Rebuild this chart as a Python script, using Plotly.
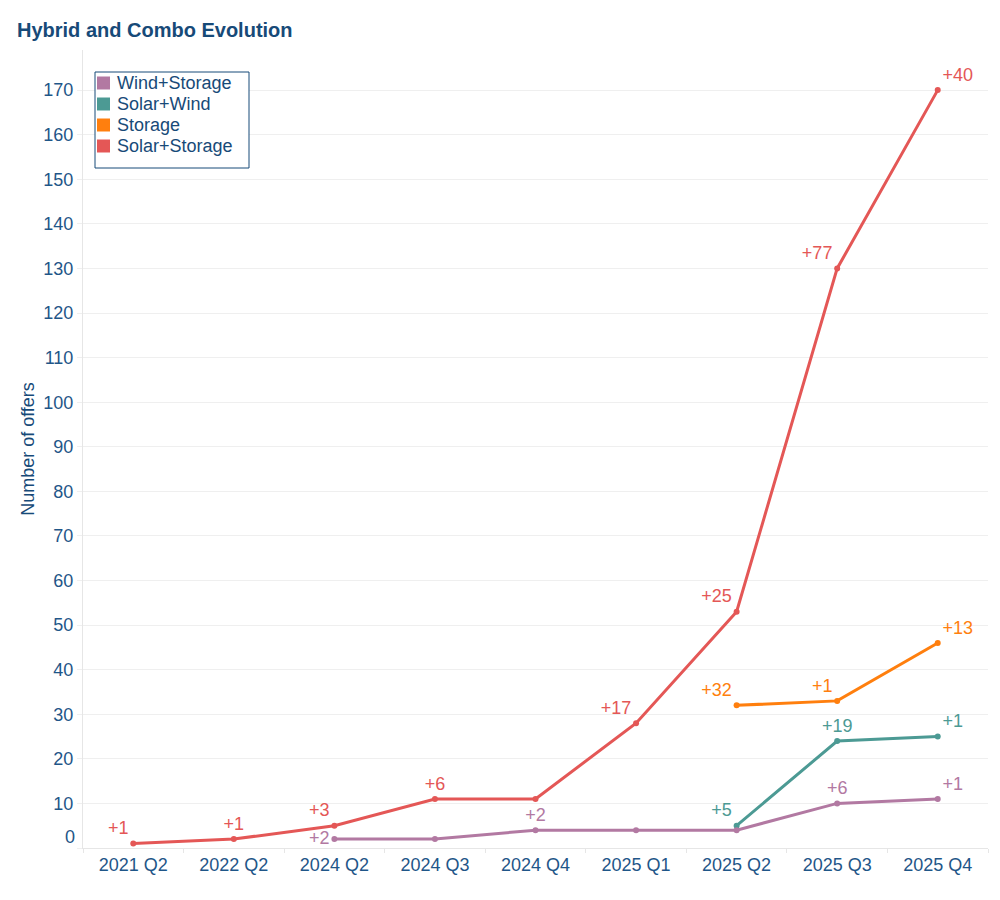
import plotly.graph_objects as go

quarters = ["2021 Q2", "2022 Q2", "2024 Q2", "2024 Q3", "2024 Q4",
            "2025 Q1", "2025 Q2", "2025 Q3", "2025 Q4"]

solar_storage_x = quarters
solar_storage_y = [1, 2, 5, 11, 11, 28, 53, 130, 170]
solar_storage_lbl = ["+1", "+1", "+3", "+6", "", "+17", "+25", "+77", "+40"]
solar_storage_pos = ["top left", "top center", "top left", "top center", "top center",
                     "top left", "top left", "top left", "top right"]

wind_storage_x = ["2024 Q2", "2024 Q3", "2024 Q4", "2025 Q1", "2025 Q2", "2025 Q3", "2025 Q4"]
wind_storage_y = [2, 2, 4, 4, 4, 10, 11]
wind_storage_lbl = ["+2", "", "+2", "", "", "+6", "+1"]
wind_storage_pos = ["middle left", "top center", "top center", "top center", "top center",
                    "top center", "top right"]

solar_wind_x = ["2025 Q2", "2025 Q3", "2025 Q4"]
solar_wind_y = [5, 24, 25]
solar_wind_lbl = ["+5", "+19", "+1"]
solar_wind_pos = ["top left", "top center", "top right"]

storage_x = ["2025 Q2", "2025 Q3", "2025 Q4"]
storage_y = [32, 33, 46]
storage_lbl = ["+32", "+1", "+13"]
storage_pos = ["top left", "top left", "top right"]

legend_order = ["Wind+Storage", "Solar+Wind", "Storage", "Solar+Storage"]

colors = {
    "Wind+Storage": "#b279a2",
    "Solar+Wind": "#4c9a94",
    "Storage": "#ff7f0e",
    "Solar+Storage": "#e45756",
}
navy = "#174a78"
tick_col = "#1f5688"
font_family = "Liberation Sans, Arial, sans-serif"

W, H = 992, 892
ML, MR, MT, MB = 75, 12, 42, 52

series = [
    ("Solar+Storage", solar_storage_x, solar_storage_y, solar_storage_lbl, solar_storage_pos),
    ("Storage", storage_x, storage_y, storage_lbl, storage_pos),
    ("Solar+Wind", solar_wind_x, solar_wind_y, solar_wind_lbl, solar_wind_pos),
    ("Wind+Storage", wind_storage_x, wind_storage_y, wind_storage_lbl, wind_storage_pos),
]

fig = go.Figure()
for name, xs, ys, lbl, pos in series:
    fig.add_trace(go.Scatter(
        x=xs, y=ys, mode="lines+markers+text", name=name,
        line=dict(color=colors[name], width=3),
        marker=dict(color=colors[name], size=6),
        text=lbl, textposition=pos,
        textfont=dict(color=colors[name], size=18, family=font_family),
        showlegend=False, cliponaxis=False,
    ))

fig.update_layout(
    width=W, height=H,
    margin=dict(l=ML, r=MR, t=MT, b=MB),
    paper_bgcolor="white", plot_bgcolor="white",
    font=dict(family=font_family, color=tick_col, size=18),
    title=dict(text="<b>Hybrid and Combo Evolution</b>", x=9 / W, xanchor="left",
               xref="container", y=1 - 22 / H, yref="container", yanchor="middle",
               font=dict(size=20, color=navy, family=font_family)),
    showlegend=False,
)

fig.update_xaxes(
    type="category", categoryorder="array", categoryarray=quarters,
    range=[-0.5, len(quarters) - 0.5],
    showgrid=False, showline=True, linecolor="#e6e6e6", linewidth=1,
    ticks="outside", ticklen=4, tickcolor="#e6e6e6", tickson="boundaries",
    tickfont=dict(size=18, color=tick_col), zeroline=False,
)

yt = list(range(0, 171, 10))
fig.update_yaxes(
    range=[0, 179], tickvals=yt, ticktext=["" if v == 0 else str(v) for v in yt],
    showgrid=True, gridcolor="#efefef", gridwidth=1,
    showline=True, linecolor="#e6e6e6", zeroline=False,
    ticks="outside", ticklen=5, tickcolor="#efefef",
    tickfont=dict(size=18, color=tick_col),
    title=dict(text="Number of offers", font=dict(size=18, color=navy), standoff=4),
)

fig.add_annotation(xref="paper", yref="y", x=0, y=0, text="0", showarrow=False,
                   xanchor="right", xshift=-6, yshift=11,
                   font=dict(size=18, color=tick_col, family=font_family))

# Legend drawn as a boxed key in the top-left of the plot area
pw = W - ML - MR
ph = H - MT - MB


def px_x(p):
    return (p - ML) / pw


def px_y(p):
    return 1 - (p - MT) / ph


box_l, box_r, box_t, box_b = 87, 241, 64, 160
fig.add_shape(type="rect", xref="paper", yref="paper",
              x0=px_x(box_l), x1=px_x(box_r), y0=px_y(box_b), y1=px_y(box_t),
              line=dict(color=navy, width=1), fillcolor="white", layer="above")
for i, name in enumerate(legend_order):
    cy = 75 + i * 21
    fig.add_shape(type="rect", xref="paper", yref="paper",
                  x0=px_x(89), x1=px_x(102), y0=px_y(cy + 6.5), y1=px_y(cy - 6.5),
                  line=dict(width=0), fillcolor=colors[name], layer="above")
    fig.add_annotation(xref="paper", yref="paper", x=px_x(107), y=px_y(cy),
                       text=name, showarrow=False, xanchor="left", yanchor="middle",
                       font=dict(size=18, color=navy, family=font_family))

fig.write_html("out.html")
